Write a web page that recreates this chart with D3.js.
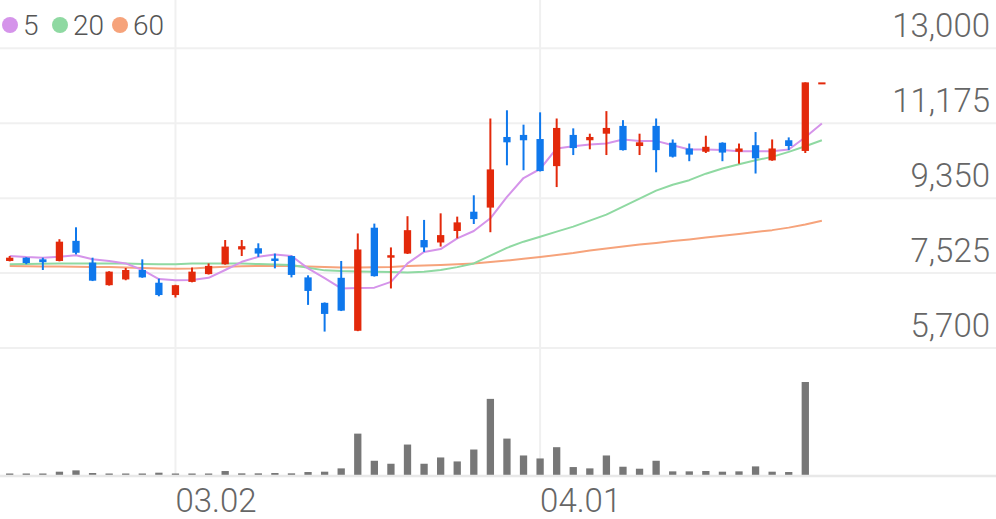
<!DOCTYPE html>
<html><head><meta charset="utf-8">
<script src="https://cdn.jsdelivr.net/npm/d3@7/dist/d3.min.js"></script>
<style>html,body{margin:0;padding:0;background:#fff;} svg{display:block;}</style>
</head><body>
<svg id="chart" width="996" height="519"></svg>
<script>
// ---- data ----
const dates = ["02.15","02.16","02.17","02.18","02.19","02.22","02.23","02.24","02.25","02.26",
  "03.02","03.03","03.04","03.05","03.08","03.09","03.10","03.11","03.12","03.15",
  "03.16","03.17","03.18","03.19","03.22","03.23","03.24","03.25","03.26","03.29",
  "03.30","03.31","04.01","04.02","04.05","04.06","04.07","04.08","04.09","04.12",
  "04.13","04.14","04.15","04.16","04.19","04.20","04.21","04.22","04.23","04.26"];
const open  = [7820,7900,7860,7820,8310,7780,7230,7370,7600,7290,6990,7310,7500,7740,8100,8130,7880,7940,7420,6800,
  7410,6120,8630,7900,8000,8330,8270,8550,9020,9120,10840,10890,10790,10130,10890,10760,10920,11110,10620,11110,
  10700,10560,10480,10700,10480,10640,10270,10760,10500,12170];
const high  = [7940,7910,7900,8350,8640,7900,7570,7650,7860,7390,7240,7660,7760,8330,8330,8250,8000,7950,7470,6810,
  7820,8490,8730,8150,8910,8820,8980,8900,9420,11290,11490,11140,11440,11290,11050,10920,11470,11250,10920,11290,
  10780,10680,10870,10710,10680,10960,10780,10830,12170,12170];
const low   = [7810,7740,7600,7810,7980,7330,7220,7350,7410,6960,6930,7300,7490,7730,7940,7920,7640,7420,6750,6100,
  6600,6110,7440,7150,7990,8040,8170,8370,8720,8520,10150,10030,10000,9620,10400,10540,10400,10510,10400,9980,
  10340,10250,10450,10250,10190,9950,10260,10520,10450,12170];
const close = [7900,7770,7790,8290,8020,7340,7560,7600,7420,6990,7230,7560,7700,8170,8180,8000,7820,7480,7090,6530,
  6610,8100,7450,7960,8570,8150,8450,8760,8840,10050,10710,10760,10010,11060,10570,10840,11060,10520,10710,10520,
  10360,10410,10600,10460,10560,10320,10560,10620,12170,12170];
const volume = [30,30,30,100,140,60,40,20,40,70,20,40,20,120,50,50,60,50,90,100,
  200,1250,430,340,920,340,530,410,770,2300,1100,590,500,840,240,200,590,250,190,430,
  110,110,120,100,110,260,100,90,2810,0];
const ma5  = [7940,7915,7900,7920,7960,7860,7820,7760,7600,7380,7350,7355,7410,7600,7800,7920,7980,7940,7640,7400,
  7150,7160,7170,7310,7760,8040,8110,8370,8550,8860,9380,9840,10060,10560,10615,10655,10680,10780,10745,10745,
  10640,10535,10535,10520,10495,10495,10495,10535,10835,11170];
const ma20 = [7737,7744,7751,7761,7761,7761,7761,7757,7744,7737,7737,7757,7761,7761,7757,7744,7732,7720,7654,7591,
  7574,7566,7557,7549,7542,7557,7600,7670,7760,7950,8140,8290,8410,8535,8657,8803,8949,9143,9338,9533,
  9678,9788,9946,10073,10177,10275,10355,10477,10615,10761];
const ma60 = [7695,7691,7686,7683,7678,7676,7671,7659,7647,7639,7630,7634,7659,7678,7691,7700,7703,7695,7683,7671,
  7659,7659,7664,7671,7695,7707,7720,7737,7761,7793,7829,7873,7914,7963,8012,8073,8121,8170,8219,8260,
  8304,8345,8394,8433,8474,8523,8571,8632,8710,8798];
const priceTicks = [13000, 11175, 9350, 7525, 5700];
const xTickLabels = ["03.02", "04.01"];
const legendLabels = ["5", "20", "60"];

// ---- styles ----
const W = 996, H = 519;
const UP = "#e3290b", DOWN = "#0f78ec";
const maColors = ["#d594ea", "#8fd9a2", "#f6a37b"];
const FONT = "'Roboto Light', Roboto, 'Noto Sans', sans-serif";

const svg = d3.select("#chart");

const idx = d3.range(dates.length);
const x = d3.scaleBand().domain(idx).range([1.41, 830.16]);
const cx = i => x(i) + x.bandwidth() / 2;
const y = d3.scaleLinear().domain([5700, 13000]).range([348, 48.3]);
const yv = d3.scaleLinear().domain([0, d3.max(volume)]).range([475, 382]);

// grid
const tickIdx = xTickLabels.map(l => dates.indexOf(l));
svg.append("g").selectAll("line").data(priceTicks).join("line")
  .attr("x1", 0).attr("x2", W).attr("y1", d => y(d)).attr("y2", d => y(d))
  .attr("stroke", "#f0f0f0").attr("stroke-width", 2);
svg.append("g").selectAll("line").data(tickIdx).join("line")
  .attr("x1", d => cx(d)).attr("x2", d => cx(d)).attr("y1", 0).attr("y2", 476)
  .attr("stroke", "#f0f0f0").attr("stroke-width", 2);

// volume
const bodyW = x.bandwidth() * 0.44;
svg.append("g").selectAll("rect").data(idx.filter(i => volume[i] > 0)).join("rect")
  .attr("x", i => cx(i) - bodyW / 2).attr("width", bodyW)
  .attr("y", i => Math.min(yv(volume[i]), 473.5))
  .attr("height", i => Math.max(475 - yv(volume[i]), 1.5))
  .attr("fill", "#777");
svg.append("line").attr("x1", 0).attr("x2", W).attr("y1", 476).attr("y2", 476)
  .attr("stroke", "#e8e8e8").attr("stroke-width", 2.5);

// moving averages
const line = d3.line().x((d, i) => cx(i)).y(d => y(d));
[ma60, ma20, ma5].forEach((s, k) => {
  svg.append("path").datum(s).attr("d", line).attr("fill", "none")
    .attr("stroke", maColors[2 - k]).attr("stroke-width", 2).attr("stroke-linejoin", "round");
});

// candles
const cg = svg.append("g").selectAll("g").data(idx).join("g");
const col = i => close[i] >= open[i] ? UP : DOWN;
cg.append("line")
  .attr("x1", i => cx(i)).attr("x2", i => cx(i))
  .attr("y1", i => y(high[i])).attr("y2", i => y(low[i]))
  .attr("stroke", col).attr("stroke-width", 2);
cg.append("rect")
  .attr("x", i => cx(i) - bodyW / 2).attr("width", bodyW)
  .attr("y", i => y(Math.max(open[i], close[i])))
  .attr("height", i => Math.max(2, Math.abs(y(open[i]) - y(close[i]))))
  .attr("fill", col);

// y axis labels
const yAxis = d3.axisLeft(y).tickValues(priceTicks).tickFormat(d3.format(",")).tickSize(0).tickPadding(0);
svg.append("g").attr("transform", "translate(990,0)").call(yAxis)
  .call(g => g.select(".domain").remove())
  .call(g => g.selectAll("text").attr("x", 0).attr("dy", "-0.35em")
    .attr("fill", "#666").style("font-family", FONT).style("font-size", "33px").style("font-weight", 300));

// x axis labels
const xAxis = d3.axisBottom(x).tickValues(tickIdx).tickFormat(i => dates[i]).tickSize(0).tickPadding(0);
svg.append("g").attr("transform", "translate(0,476)").call(xAxis)
  .call(g => g.select(".domain").remove())
  .call(g => g.selectAll("text").attr("text-anchor", "start").attr("x", 0).attr("y", 36).attr("dy", 0)
    .attr("fill", "#666").style("font-family", FONT).style("font-size", "33px").style("font-weight", 300));

// legend
const legX = [10, 60, 120];
const lg = svg.append("g").selectAll("g").data(legendLabels).join("g");
lg.append("circle").attr("cx", (d, i) => legX[i]).attr("cy", 25).attr("r", 8).attr("fill", (d, i) => maColors[i]);
lg.append("text").attr("x", (d, i) => legX[i] + 13).attr("y", 34.5).text(d => d)
  .attr("fill", "#555").style("font-family", FONT).style("font-size", "28px").style("font-weight", 300);
</script>
</body></html>
